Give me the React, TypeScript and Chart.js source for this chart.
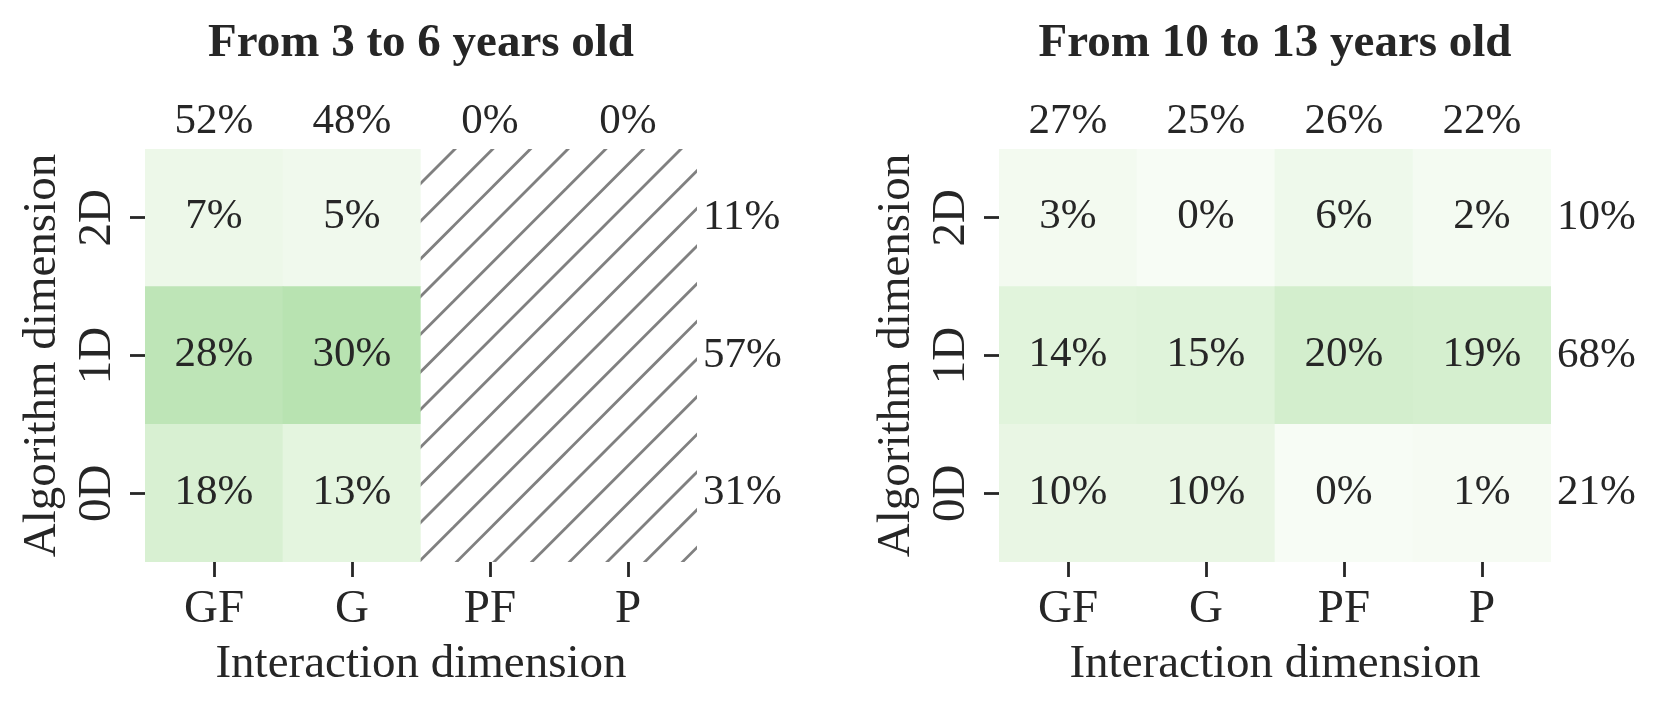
import React, { useEffect, useRef } from 'react';
import { Chart, registerables } from 'chart.js';

Chart.register(...registerables);

// ---------- data ----------
const columns: string[] = ['GF', 'G', 'PF', 'P'];
const rowsBottomUp: string[] = ['0D', '1D', '2D'];
const xTitle = 'Interaction dimension';
const yTitle = 'Algorithm dimension';

const youngTitle = 'From 3 to 6 years old';
const young0D: (number | null)[] = [18, 13, null, null];
const young1D: (number | null)[] = [28, 30, null, null];
const young2D: (number | null)[] = [7, 5, null, null];
const youngColTotals: number[] = [52, 48, 0, 0];
const youngRowTotals: number[] = [31, 57, 11]; // 0D, 1D, 2D

const olderTitle = 'From 10 to 13 years old';
const older0D: (number | null)[] = [10, 10, 0, 1];
const older1D: (number | null)[] = [14, 15, 20, 19];
const older2D: (number | null)[] = [3, 0, 6, 2];
const olderColTotals: number[] = [27, 25, 26, 22];
const olderRowTotals: number[] = [21, 68, 10]; // 0D, 1D, 2D

// ---------- style ----------
const FONT = "'Liberation Serif', 'Times New Roman', Times, serif";
const INK = '#262626';
const GREENS = ['#f7fcf5', '#e5f5e0', '#c7e9c0', '#a1d99b', '#74c476', '#41ab5d', '#238b45', '#006d2c', '#00441b'];

function hexToRgb(h: string) {
  return [parseInt(h.slice(1, 3), 16), parseInt(h.slice(3, 5), 16), parseInt(h.slice(5, 7), 16)];
}
function greens(t: number) {
  const c = Math.max(0, Math.min(1, t)) * (GREENS.length - 1);
  const i = Math.min(GREENS.length - 2, Math.floor(c));
  const f = c - i;
  const a = hexToRgb(GREENS[i]);
  const b = hexToRgb(GREENS[i + 1]);
  const m = a.map((v, k) => Math.round(v + (b[k] - v) * f));
  return `rgb(${m[0]},${m[1]},${m[2]})`;
}

function makeHatch(): CanvasPattern | string {
  const size = 113;
  const spacing = size / 3;
  const phase = 1.4;
  const c = document.createElement('canvas');
  c.width = size;
  c.height = size;
  const g = c.getContext('2d');
  if (!g) return '#ffffff';
  g.fillStyle = '#ffffff';
  g.fillRect(0, 0, size, size);
  g.strokeStyle = '#808080';
  g.lineWidth = 2.8;
  for (let k = -2; k <= 8; k++) {
    const s = phase + k * spacing;
    g.beginPath();
    g.moveTo(s + 10, -10);
    g.lineTo(-10, s + 10);
    g.stroke();
  }
  const ctx = document.createElement('canvas').getContext('2d');
  return (ctx && ctx.createPattern(c, 'repeat')) || '#ffffff';
}

const cellLabels = {
  id: 'cellLabels',
  afterDatasetsDraw(chart: any) {
    const ctx = chart.ctx;
    ctx.save();
    ctx.font = `43px ${FONT}`;
    ctx.fillStyle = INK;
    ctx.textAlign = 'center';
    ctx.textBaseline = 'alphabetic';
    chart.data.datasets.forEach((ds: any, di: number) => {
      const meta = chart.getDatasetMeta(di);
      meta.data.forEach((bar: any, ci: number) => {
        const v = ds.values[ci];
        if (v === null || v === undefined) return;
        const p = bar.getProps(['x', 'y', 'base'], true);
        const cy = (p.y + p.base) / 2;
        ctx.fillText(`${v}%`, p.x, cy + 10.5);
      });
    });
    ctx.restore();
  },
};

type HeatProps = {
  title: string;
  cells: (number | null)[][];
  colTotals: number[];
  rowTotals: number[];
  left: number;
};

function Heatmap({ title, cells, colTotals, rowTotals, left }: HeatProps) {
  const ref = useRef<HTMLCanvasElement | null>(null);
  useEffect(() => {
    if (!ref.current) return;
    const hatch = makeHatch();
    const tickGrid = {
      display: true,
      offset: false,
      drawOnChartArea: false,
      drawTicks: true,
      tickLength: 15,
      tickWidth: 2.8,
      tickColor: INK,
    };
    const rowTicks = (s: any) => {
      s.ticks = rowsBottomUp.map((_, i) => ({ value: i + 0.5 }));
    };
    const chart = new Chart(ref.current, {
      type: 'bar',
      data: {
        labels: columns,
        datasets: rowsBottomUp.map((r, ri) => ({
          label: r,
          data: columns.map(() => 1),
          values: cells[ri],
          backgroundColor: cells[ri].map((v) => (v === null ? hatch : greens(v / 100))),
          borderWidth: 0,
          barPercentage: 1,
          categoryPercentage: 1,
          xAxisID: 'x',
          yAxisID: 'y',
        })) as any,
      },
      options: {
        animation: false,
        responsive: false,
        events: [],
        layout: { padding: 0 },
        plugins: {
          legend: { display: false },
          tooltip: { enabled: false },
          title: {
            display: true,
            text: title,
            fullSize: false,
            color: INK,
            font: { family: FONT, size: 47, weight: 'bold' },
            padding: { top: 16, bottom: 0 },
          },
        },
        scales: {
          x: {
            type: 'category',
            position: 'bottom',
            stacked: true,
            offset: true,
            grid: tickGrid,
            border: { display: false },
            ticks: { color: INK, font: { family: FONT, size: 47 }, padding: 4, maxRotation: 0, autoSkip: false },
            title: {
              display: true,
              text: xTitle,
              color: INK,
              font: { family: FONT, size: 47 },
              padding: { top: 0, bottom: 15.6 },
            },
            afterFit: (s: any) => {
              s.height = 146;
            },
          },
          x2: {
            type: 'category',
            position: 'top',
            labels: colTotals.map((v) => `${v}%`),
            offset: true,
            grid: { display: false, drawTicks: false },
            border: { display: false },
            ticks: { color: INK, font: { family: FONT, size: 43 }, padding: 1.1, maxRotation: 0, autoSkip: false },
            afterFit: (s: any) => {
              s.height = 149 - 16 - 56.4;
            },
          },
          y: {
            type: 'linear',
            position: 'left',
            stacked: true,
            min: 0,
            max: rowsBottomUp.length,
            afterBuildTicks: rowTicks,
            grid: tickGrid,
            border: { display: false },
            ticks: {
              color: INK,
              font: { family: FONT, size: 47 },
              padding: 4.1,
              minRotation: 90,
              maxRotation: 90,
              crossAlign: 'center',
              callback: (_v: any, i: number) => rowsBottomUp[i],
            },
            title: {
              display: true,
              text: yTitle,
              color: INK,
              font: { family: FONT, size: 47 },
              padding: { top: 14, bottom: 0 },
            },
            afterFit: (s: any) => {
              s.width = 145;
            },
          },
          y2: {
            type: 'linear',
            position: 'right',
            min: 0,
            max: rowsBottomUp.length,
            afterBuildTicks: rowTicks,
            grid: { display: false, drawTicks: false },
            border: { display: false },
            ticks: {
              color: INK,
              font: { family: FONT, size: 43 },
              padding: 6,
              callback: (_v: any, i: number) => `${rowTotals[i]}%`,
            },
            afterFit: (s: any) => {
              s.width = 109;
            },
          },
        },
      } as any,
      plugins: [cellLabels],
    });
    return () => chart.destroy();
  }, [title, cells, colTotals, rowTotals]);

  return (
    <canvas
      ref={ref}
      width={806}
      height={708}
      style={{ position: 'absolute', left, top: 0, width: 806, height: 708, display: 'block' }}
    />
  );
}

const youngCells = [young0D, young1D, young2D];
const olderCells = [older0D, older1D, older2D];

export default function App() {
  return (
    <div style={{ position: 'fixed', left: 0, top: 0, width: 1660, height: 708, background: '#ffffff', overflow: 'hidden' }}>
      <Heatmap title={youngTitle} cells={youngCells} colTotals={youngColTotals} rowTotals={youngRowTotals} left={0} />
      <Heatmap title={olderTitle} cells={olderCells} colTotals={olderColTotals} rowTotals={olderRowTotals} left={854} />
    </div>
  );
}
